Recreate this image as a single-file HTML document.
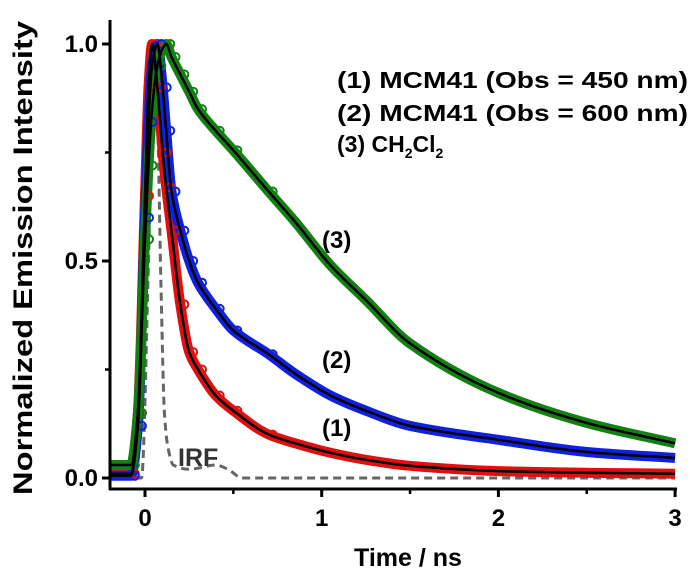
<!DOCTYPE html>
<html><head><meta charset="utf-8"><style>
body{margin:0;background:#fff;}
svg{display:block;font-family:"Liberation Sans",Arial,sans-serif;font-weight:bold;}
</style></head><body>
<svg id="c" width="690" height="577" viewBox="0 0 690 577">
<g id="series"></g>
<g id="axes"></g>
<text x="32" y="258" transform="rotate(-90 32 258)" text-anchor="middle" font-size="27" textLength="474" lengthAdjust="spacingAndGlyphs">Normalized Emission Intensity</text>
<text x="408" y="566" text-anchor="middle" font-size="25">Time / ns</text>
<g font-size="23">
<text x="337" y="88" textLength="351" lengthAdjust="spacingAndGlyphs">(1) MCM41 (Obs = 450 nm)</text>
<text x="337" y="121" textLength="351" lengthAdjust="spacingAndGlyphs">(2) MCM41 (Obs = 600 nm)</text>
<text x="337" y="152">(3) CH<tspan font-size="14" dy="6">2</tspan><tspan dy="-6">Cl</tspan><tspan font-size="14" dy="6">2</tspan></text>
</g>
<g font-size="24">
<text x="322" y="248">(3)</text>
<text x="322" y="368">(2)</text>
<text x="322" y="436">(1)</text>
<text x="178" y="466" fill="#333" font-size="25">IRF</text>
</g>
</svg>
<script>
const times=[-0.2,-0.08,-0.04,0,0.02,0.04,0.07,0.1,0.12,0.15,0.2,0.25,0.3,0.4,0.5,0.7,0.85,1.05,1.25,1.5,2,2.5,3];
const red=[0.01,0.01,0.15,0.65,0.9,1.0,0.9,0.75,0.67,0.57,0.4,0.29,0.25,0.19,0.155,0.10,0.08,0.058,0.042,0.028,0.016,0.012,0.01];
const blue=[0.005,0.005,0.12,0.6,0.82,0.95,1.0,0.9,0.8,0.66,0.57,0.5,0.45,0.39,0.34,0.285,0.24,0.19,0.155,0.12,0.088,0.06,0.046];
const green=[0.03,0.03,0.15,0.55,0.72,0.85,0.95,0.99,1.0,0.97,0.93,0.89,0.85,0.8,0.755,0.66,0.59,0.49,0.41,0.31,0.196,0.127,0.08];
const irfTimes=[-0.2,-0.02,0.02,0.05,0.07,0.09,0.11,0.13,0.16,0.25,0.4,0.47,0.55,3];
const irf=[0,0,0.5,1.0,0.85,0.45,0.15,0.07,0.03,0.02,0.03,0.02,0,0];
const xTicks=[0,1,2,3];
const yTicks=[0.0,0.5,1.0];
const yTickLabels=["0.0","0.5","1.0"];
const NS="http://www.w3.org/2000/svg";
const X=t=>145+t*176.7;
const Y=v=>478-v*434;
const sg=document.getElementById('series'), ag=document.getElementById('axes');
function mk(tag,attrs,parent){const e=document.createElementNS(NS,tag);for(const k in attrs)e.setAttribute(k,attrs[k]);parent.appendChild(e);return e;}
function path(ts,vs){
  const n=ts.length, xs=ts.map(X), ys=vs.map(Y);
  const dx=[],m=[];
  for(let i=0;i<n-1;i++){dx.push(xs[i+1]-xs[i]);m.push((ys[i+1]-ys[i])/dx[i]);}
  const tg=[m[0]];
  for(let i=1;i<n-1;i++){tg.push(m[i-1]*m[i]<=0?0:(2*m[i-1]*m[i])/(m[i-1]+m[i]));}
  tg.push(m[n-2]);
  let d='M'+xs[0].toFixed(1)+','+ys[0].toFixed(1);
  for(let i=0;i<n-1;i++){
    const h=dx[i]/3;
    d+=' C'+(xs[i]+h).toFixed(1)+','+(ys[i]+tg[i]*h).toFixed(1)+' '+(xs[i+1]-h).toFixed(1)+','+(ys[i+1]-tg[i+1]*h).toFixed(1)+' '+xs[i+1].toFixed(1)+','+ys[i+1].toFixed(1);
  }
  return d;
}
const ir=mk('path',{d:path(irfTimes,irf),fill:'none',stroke:'#666','stroke-width':3,'stroke-dasharray':'8,5'},sg);


const sets=[[red,'#e01010','series-1'],[blue,'#1020e0','series-2'],[green,'#128012','series-3']];
sets.forEach(([vals,col,name])=>{
  const band=mk('path',{d:path(times,vals),fill:'none',stroke:col,'stroke-width':10,'stroke-linejoin':'round'},sg);
  
  
});
sets.forEach(([vals,col,name])=>{
  times.forEach((t,i)=>{if(t<=0.8&&t>-0.1){
    const c=mk('circle',{cx:X(t)+4,cy:Y(vals[i]),r:4,fill:'none',stroke:col,'stroke-width':2},sg);
    
    
  }});
});
sets.forEach(([vals,col,name])=>{
  const f=mk('path',{d:path(times,vals),fill:'none',stroke:'#000','stroke-width':2.5,'stroke-linejoin':'round'},sg);
  
  
});
const ya=mk('line',{x1:110,y1:20,x2:110,y2:490,stroke:'#000','stroke-width':3},ag);


const xa=mk('line',{x1:109,y1:489,x2:677,y2:489,stroke:'#000','stroke-width':3},ag);


xTicks.forEach(t=>{
  mk('line',{x1:X(t),y1:489,x2:X(t),y2:497,stroke:'#000','stroke-width':3},ag);
  if(t<3) mk('line',{x1:X(t+0.5),y1:489,x2:X(t+0.5),y2:494,stroke:'#000','stroke-width':2.5},ag);
  const tx=mk('text',{x:X(t),y:526,'text-anchor':'middle','font-size':24},ag);
  tx.textContent=String(t);
  
  
});
yTicks.forEach((v,i)=>{
  mk('line',{x1:102,y1:Y(v),x2:110,y2:Y(v),stroke:'#000','stroke-width':3},ag);
  if(v<1) mk('line',{x1:105,y1:Y(v+0.25),x2:110,y2:Y(v+0.25),stroke:'#000','stroke-width':2.5},ag);
  const tx=mk('text',{x:98,y:Y(v)+8,'text-anchor':'end','font-size':24},ag);
  tx.textContent=yTickLabels[i];
  
  
});
</script>
</body></html>
